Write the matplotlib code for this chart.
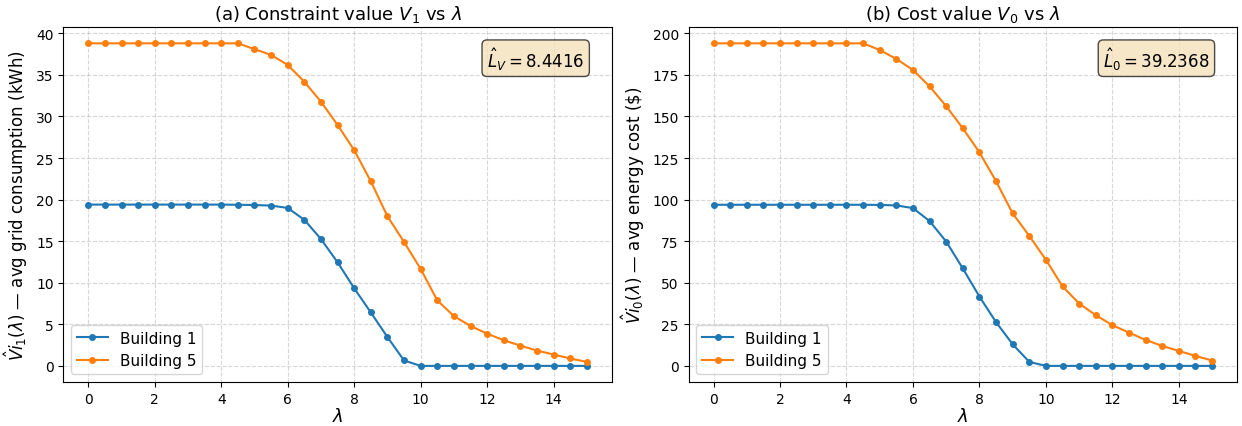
import numpy as np
import matplotlib
matplotlib.use("Agg")
import matplotlib.pyplot as plt

# lambda grid
lambdas = np.arange(0, 15.01, 0.5)

# (a) constraint value V1 - avg grid consumption (kWh)
v1_b1 = [19.4, 19.4, 19.4, 19.4, 19.4, 19.4, 19.4, 19.4, 19.4, 19.38, 19.35,
         19.28, 19.0, 17.57, 15.26, 12.46, 9.34, 6.43, 3.47, 0.65, 0.0,
         0.0, 0.0, 0.0, 0.0, 0.0, 0.0, 0.0, 0.0, 0.0, 0.0]
v1_b5 = [38.8, 38.8, 38.8, 38.8, 38.8, 38.8, 38.8, 38.8, 38.8, 38.8, 38.1,
         37.4, 36.2, 34.18, 31.78, 28.98, 25.95, 22.2, 18.0, 14.9, 11.66,
         7.87, 5.99, 4.79, 3.88, 3.08, 2.44, 1.84, 1.37, 0.89, 0.48]

# (b) cost value V0 - avg energy cost ($)
v0_b1 = [96.9, 96.9, 96.9, 96.9, 96.9, 96.9, 96.9, 96.9, 96.9, 96.9, 96.8,
         96.5, 94.9, 87.1, 74.8, 58.6, 41.7, 26.3, 13.0, 2.4, 0.0,
         0.0, 0.0, 0.0, 0.0, 0.0, 0.0, 0.0, 0.0, 0.0, 0.0]
v0_b5 = [194.0, 194.0, 194.0, 194.0, 194.0, 194.0, 194.0, 194.0, 194.0, 194.0, 190.0,
         184.6, 178.0, 168.1, 156.2, 142.9, 128.4, 111.1, 91.7, 78.2, 63.8,
         47.8, 37.5, 30.5, 24.5, 20.0, 15.6, 12.0, 9.0, 6.0, 3.2]

L_V = 8.4416
L_0 = 39.2368

fig, axes = plt.subplots(1, 2, figsize=(12.42, 4.27), dpi=100)
plt.subplots_adjust(left=0.051, right=0.996, top=0.934, bottom=0.103, wspace=0.14)

panels = [
    (axes[0], v1_b1, v1_b5, r"(a) Constraint value $V_1$ vs $\lambda$",
     r"$\hat{V}i_1(\lambda)$ $\mathbf{—}$ avg grid consumption (kWh)", r"$\hat{L}_V = %.4f$" % L_V),
    (axes[1], v0_b1, v0_b5, r"(b) Cost value $V_0$ vs $\lambda$",
     r"$\hat{V}i_0(\lambda)$ $\mathbf{—}$ avg energy cost (\$)", r"$\hat{L}_0 = %.4f$" % L_0),
]

for ax, b1, b5, title, ylab, note in panels:
    ax.plot(lambdas, b1, marker="o", markersize=4, color="#1f77b4", label="Building 1")
    ax.plot(lambdas, b5, marker="o", markersize=4, color="#ff7f0e", label="Building 5")
    ax.set_title(title, fontsize=13)
    ax.set_xlabel(r"$\lambda$", fontsize=13, labelpad=1)
    ax.set_ylabel(ylab, fontsize=12)
    ax.grid(True, linestyle="--", alpha=0.5)
    ax.legend(loc="lower left", fontsize=11)
    ax.text(0.95, 0.95, note, transform=ax.transAxes, ha="right", va="top", fontsize=12,
            bbox=dict(boxstyle="round", facecolor="wheat", alpha=0.7))

plt.savefig("out.png", dpi=100)
